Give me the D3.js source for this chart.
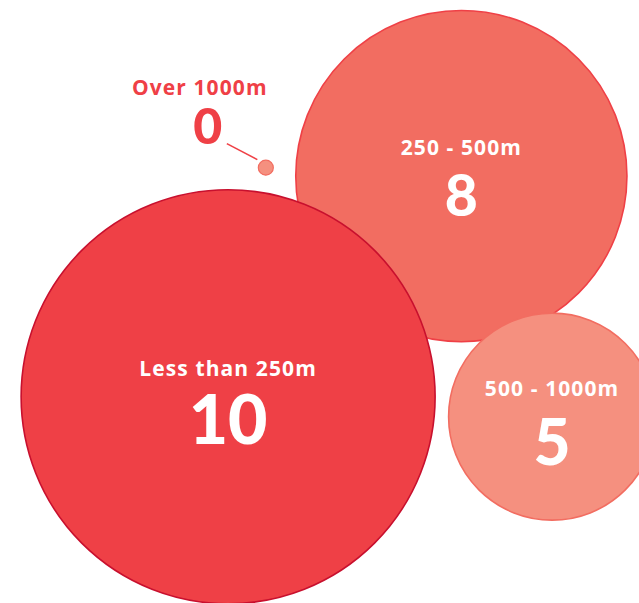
<!DOCTYPE html>
<html>
<head>
<meta charset="utf-8">
<script src="https://cdn.jsdelivr.net/npm/d3@7"></script>
<style>
  html, body { margin: 0; padding: 0; background: #fff; }
  svg { display: block; }
  text { font-family: Lato, "Open Sans", "Noto Sans", sans-serif; }
  text.cat { font-family: "Open Sans", "Noto Sans", sans-serif; }
</style>
</head>
<body>
<svg id="chart" width="639" height="603"></svg>
<script>
// Distance bands and the number of places in each
const categories = ["Less than 250m", "250 - 500m", "500 - 1000m", "Over 1000m"];
const counts = [10, 8, 5, 0];

// Bubble look per band (fill, outline, number size)
const fills   = ["#EF4046", "#F26D61", "#F5907F", "#F5907F"];
const strokes = ["#C8102E", "#EF4046", "#F26D61", "#F26D61"];
const numSize = [68, 57, 64, 50];

// Where each bubble sits in the frame (fractions of width / height)
const anchorX = [0.357, 0.722, 0.864, 0.416];
const anchorY = [0.658, 0.292, 0.691, 0.278];
// Draw order: mid bubbles underneath, biggest on top of its neighbour
const drawOrder = [1, 0, 2, 3];

const width = 639, height = 603;
const svg = d3.select("#chart");

const x = d3.scaleLinear().domain([0, 1]).range([0, width]);
const y = d3.scaleLinear().domain([0, 1]).range([0, height]);
const r = d3.scaleLinear().domain([0, d3.max(counts)]).range([0, 207]);
const minR = 7.5;

const nodes = categories.map((c, i) => ({
  name: c, value: counts[i], i,
  cx: x(anchorX[i]), cy: y(anchorY[i]),
  r: Math.max(r(counts[i]), minR)
}));

const g = svg.append("g");

const bubbles = g.selectAll("g.bubble")
  .data(drawOrder.map(i => nodes[i]))
  .join("g")
  .attr("class", "bubble");

bubbles.append("circle")
  .attr("cx", d => d.cx)
  .attr("cy", d => d.cy)
  .attr("r", d => d.r)
  .attr("fill", d => fills[d.i])
  .attr("stroke", d => strokes[d.i])
  .attr("stroke-width", d => d.r > 20 ? 1.6 : 1.2);

// Labels inside bubbles large enough to hold them
const inside = bubbles.filter(d => d.r > 40);
inside.append("text")
  .attr("class", "cat")
  .attr("x", d => d.cx)
  .attr("y", d => d.cy - 21)
  .attr("text-anchor", "middle")
  .attr("fill", "#fff")
  .attr("font-size", 21)
  .attr("font-weight", 700)
  .attr("letter-spacing", 1.1)
  .text(d => d.name);

inside.append("text")
  .attr("x", d => d.cx)
  .attr("y", d => d.cy + (d.r > 180 ? 47 : d.r > 150 ? 40 : 48))
  .attr("text-anchor", "middle")
  .attr("fill", "#fff")
  .attr("font-size", d => numSize[d.i])
  .attr("font-weight", 900)
  .text(d => d.value);

// Tiny bubbles get an outside label with a leader line
const outside = bubbles.filter(d => d.r <= 40);
outside.append("line")
  .attr("x1", d => d.cx - 39)
  .attr("y1", d => d.cy - 24)
  .attr("x2", d => d.cx - d.r - 1)
  .attr("y2", d => d.cy - 8)
  .attr("stroke", "#EF4046")
  .attr("stroke-width", 1.6);

outside.append("text")
  .attr("class", "cat")
  .attr("x", d => d.cx - 66)
  .attr("y", d => d.cy - 73)
  .attr("text-anchor", "middle")
  .attr("fill", "#EF4046")
  .attr("font-size", 21)
  .attr("font-weight", 700)
  .attr("letter-spacing", 1.1)
  .text(d => d.name);

outside.append("text")
  .attr("x", d => d.cx - 58)
  .attr("y", d => d.cy - 24)
  .attr("text-anchor", "middle")
  .attr("fill", "#EF4046")
  .attr("font-size", numSize[3])
  .attr("font-weight", 900)
  .text(d => d.value);
</script>
</body>
</html>
